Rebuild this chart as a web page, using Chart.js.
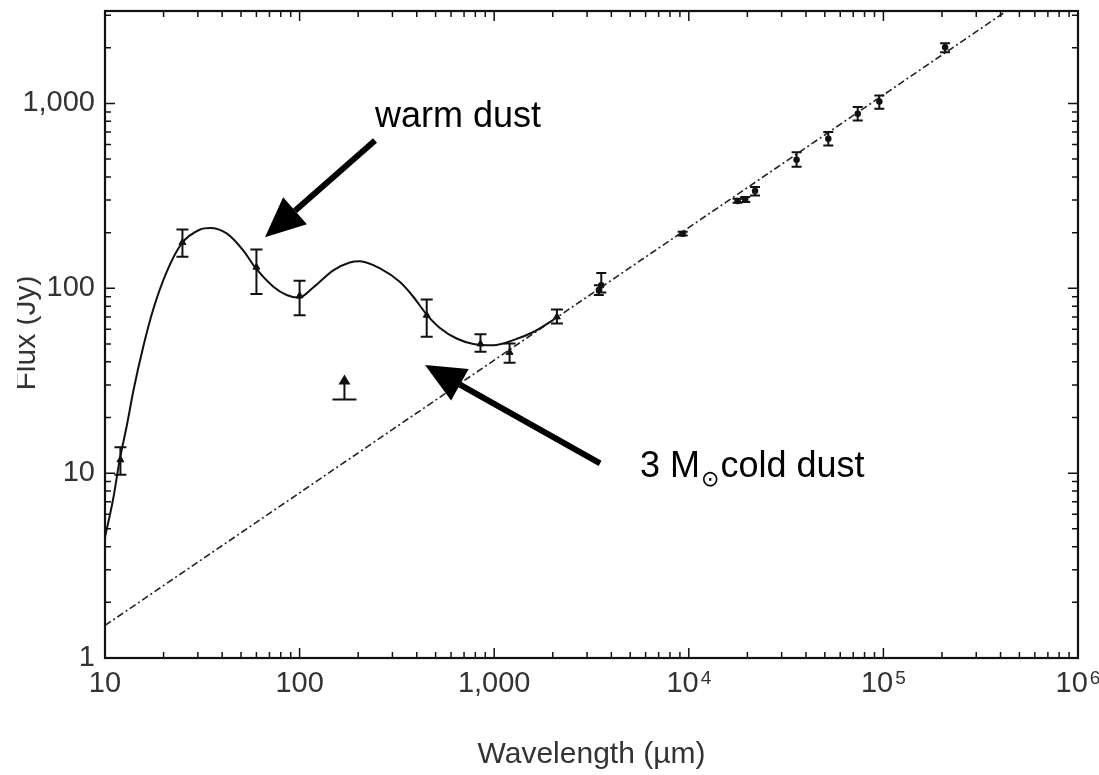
<!DOCTYPE html>
<html>
<head>
<meta charset="utf-8">
<script src="https://cdn.jsdelivr.net/npm/chart.js@4.4.0/dist/chart.umd.min.js"></script>
<style>
  body { margin: 0; background: #fff; }
  canvas { display: block; }
</style>
</head>
<body>
<canvas id="sedChart" width="1099" height="775"></canvas>
<script>
// two-component dust model (wavelength in um, flux in Jy)
var modelWave = [10, 11, 11.9, 13, 14, 15.7, 17.7, 20.7, 24.8, 30.8, 34.7, 42.2, 51.4, 59, 73.3, 85.8, 99.3, 117.5, 149, 181, 204, 259, 328, 384, 450, 526, 641, 781, 989, 1253, 1588, 2014];
var modelFlux = [4.5, 7.2, 11.8, 18.5, 28, 48, 77, 122, 175, 208, 212, 198, 160, 130, 102, 92, 89, 101, 125, 138, 140, 128, 108, 90, 72, 61, 53.5, 50, 49.2, 52.4, 58, 67.5];

// synchrotron power law
var synchWave = [10, 1e6];
var synchFlux = [1.5, 5800];

// infrared / submm photometry
var irWave = [12, 25, 60, 100, 450, 850, 1200, 2100];
var irFlux = [11.8, 177, 130, 91, 71.5, 50, 45, 70];
var irLow  = [9.8, 148, 93, 71.5, 54.6, 45.3, 39.5, 64.4];
var irHigh = [13.8, 208, 162, 110, 87, 56.4, 50.2, 76.7];

// radio photometry
var radioWave = [3450, 3550, 9300, 17800, 19500, 21900, 35800, 52100, 73800, 95300, 207500];
var radioFlux = [98, 104, 197, 297, 302, 336, 496, 644, 880, 1025, 2016];
var radioLow  = [92, 95, 193, 290, 293, 318, 455, 593, 809, 936, 1893];
var radioHigh = [104, 121, 202, 305, 312, 353, 545, 700, 955, 1105, 2118];

// lower limit
var limitWave = [170];
var limitFlux = [25];

// x labels: base text plus optional exponent
var xTicks = [10, 100, 1000, 1e4, 1e5, 1e6];
var xTickBase = ['10', '100', '1,000', '10', '10', '10'];
var xTickExp = ['', '', '', '4', '5', '6'];
var yTicks = [1, 10, 100, 1000];
var yTickLabels = ['1', '10', '100', '1,000'];

// labelled arrows, placed in data coordinates
var notes = [
  { text: 'warm dust', x: 244, y: 741, tail: [244, 631], tip: [66.4, 189] },
  { text: '3 M', sub: '⊙', rest: 'cold dust', x: 5610, y: 9.55, tail: [3500, 11.3], tip: [441, 38.4] }
];

var FONT = '"Liberation Sans", Arial, Helvetica, sans-serif';

function pts(xs, ys) {
  return xs.map(function(x, i) { return { x: x, y: ys[i] }; });
}

// frame on all four sides with inward major/minor ticks
var frameTicks = {
  id: 'frameTicks',
  afterDatasetsDraw: function(chart) {
    var ctx = chart.ctx, a = chart.chartArea, xs = chart.scales.x, ys = chart.scales.y;
    ctx.save();
    ctx.strokeStyle = '#111';
    ctx.lineWidth = 1.5;
    ctx.beginPath();
    var d, m, v, p, len;
    for (d = 1; d <= 6; d++) {
      for (m = 1; m <= 9; m++) {
        v = m * Math.pow(10, d);
        if (v > xs.max) break;
        p = xs.getPixelForValue(v);
        len = m === 1 ? 10 : 6;
        ctx.moveTo(p, a.bottom); ctx.lineTo(p, a.bottom - len);
        ctx.moveTo(p, a.top); ctx.lineTo(p, a.top + len);
      }
    }
    for (d = 0; d <= 4; d++) {
      for (m = 1; m <= 9; m++) {
        v = m * Math.pow(10, d);
        if (v > ys.max) break;
        p = ys.getPixelForValue(v);
        len = m === 1 ? 10 : 6;
        ctx.moveTo(a.left, p); ctx.lineTo(a.left + len, p);
        ctx.moveTo(a.right, p); ctx.lineTo(a.right - len, p);
      }
    }
    ctx.stroke();
    ctx.lineWidth = 2.2;
    ctx.strokeRect(a.left, a.top, a.right - a.left, a.bottom - a.top);
    ctx.restore();
  }
};

// x tick labels with raised exponents
var xLabels = {
  id: 'xLabels',
  afterDraw: function(chart) {
    var ctx = chart.ctx, a = chart.chartArea, xs = chart.scales.x;
    var baseFont = '29px ' + FONT, expFont = '19px ' + FONT;
    var y = a.bottom + 34;
    ctx.save();
    ctx.fillStyle = '#333';
    ctx.textAlign = 'left';
    ctx.textBaseline = 'alphabetic';
    xTicks.forEach(function(v, i) {
      ctx.font = baseFont;
      var wb = ctx.measureText(xTickBase[i]).width;
      ctx.font = expFont;
      var we = xTickExp[i] ? ctx.measureText(xTickExp[i]).width + 2 : 0;
      var x0 = xs.getPixelForValue(v) - (wb + we) / 2;
      ctx.font = baseFont;
      ctx.fillText(xTickBase[i], x0, y);
      if (xTickExp[i]) {
        ctx.font = expFont;
        ctx.fillText(xTickExp[i], x0 + wb + 2, y - 8);
      }
    });
    ctx.restore();
  }
};

// vertical error bars and the lower-limit arrow
var errorBars = {
  id: 'errorBars',
  afterDatasetsDraw: function(chart) {
    var ctx = chart.ctx, xs = chart.scales.x, ys = chart.scales.y;
    function bars(wave, low, high, cap) {
      wave.forEach(function(w, i) {
        var px = xs.getPixelForValue(w);
        var top = ys.getPixelForValue(high[i]), bot = ys.getPixelForValue(low[i]);
        ctx.moveTo(px, top); ctx.lineTo(px, bot);
        ctx.moveTo(px - cap, top); ctx.lineTo(px + cap, top);
        ctx.moveTo(px - cap, bot); ctx.lineTo(px + cap, bot);
      });
    }
    ctx.save();
    ctx.strokeStyle = '#111';
    ctx.lineWidth = 2;
    ctx.beginPath();
    bars(irWave, irLow, irHigh, 6);
    bars(radioWave, radioLow, radioHigh, 5);
    ctx.stroke();

    limitWave.forEach(function(w, i) {
      var px = xs.getPixelForValue(w), py = ys.getPixelForValue(limitFlux[i]);
      ctx.beginPath();
      ctx.moveTo(px - 12, py); ctx.lineTo(px + 12, py);
      ctx.moveTo(px, py); ctx.lineTo(px, py - 18);
      ctx.stroke();
      ctx.beginPath();
      ctx.moveTo(px, py - 25);
      ctx.lineTo(px - 6, py - 15);
      ctx.lineTo(px + 6, py - 15);
      ctx.closePath();
      ctx.fillStyle = '#111';
      ctx.fill();
    });
    ctx.restore();
  }
};

function drawArrow(ctx, x0, y0, x1, y1) {
  var ang = Math.atan2(y1 - y0, x1 - x0);
  var headLen = 40, headHalf = 18;
  var bx = x1 - headLen * Math.cos(ang), by = y1 - headLen * Math.sin(ang);
  ctx.beginPath();
  ctx.moveTo(x0, y0);
  ctx.lineTo(bx, by);
  ctx.lineWidth = 6;
  ctx.stroke();
  ctx.beginPath();
  ctx.moveTo(x1, y1);
  ctx.lineTo(bx + headHalf * Math.sin(ang), by - headHalf * Math.cos(ang));
  ctx.lineTo(bx - headHalf * Math.sin(ang), by + headHalf * Math.cos(ang));
  ctx.closePath();
  ctx.fill();
}

var notesPlugin = {
  id: 'notes',
  afterDraw: function(chart) {
    var ctx = chart.ctx, xs = chart.scales.x, ys = chart.scales.y;
    ctx.save();
    ctx.fillStyle = '#000';
    ctx.strokeStyle = '#000';
    notes.forEach(function(n) {
      drawArrow(ctx, xs.getPixelForValue(n.tail[0]), ys.getPixelForValue(n.tail[1]),
                xs.getPixelForValue(n.tip[0]), ys.getPixelForValue(n.tip[1]));
      var tx = xs.getPixelForValue(n.x), ty = ys.getPixelForValue(n.y);
      ctx.font = '36px ' + FONT;
      ctx.textAlign = 'left';
      ctx.textBaseline = 'alphabetic';
      ctx.fillText(n.text, tx, ty);
      if (n.sub) {
        tx += ctx.measureText(n.text).width + 1;
        ctx.font = '22px "DejaVu Sans", ' + FONT;
        ctx.fillText(n.sub, tx, ty + 9);
        tx += ctx.measureText(n.sub).width + 1;
        ctx.font = '36px ' + FONT;
        ctx.fillText(n.rest, tx, ty);
      }
    });
    ctx.restore();
  }
};

// axis titles; the y title runs off the left edge
var axisTitles = {
  id: 'axisTitles',
  afterDraw: function(chart) {
    var ctx = chart.ctx, a = chart.chartArea;
    ctx.save();
    ctx.fillStyle = '#333';
    ctx.font = '30px ' + FONT;
    ctx.textAlign = 'center';
    ctx.textBaseline = 'alphabetic';
    ctx.fillText('Wavelength (µm)', (a.left + a.right) / 2, 763);
    ctx.beginPath();
    ctx.rect(17, 0, 200, chart.height);
    ctx.clip();
    ctx.translate(35, 333);
    ctx.rotate(-Math.PI / 2);
    ctx.fillText('Flux (Jy)', 0, 0);
    ctx.restore();
  }
};

var ctx = document.getElementById('sedChart').getContext('2d');
var sedChart = new Chart(ctx, {
  type: 'line',
  data: {
    datasets: [
      { data: pts(modelWave, modelFlux), borderColor: '#111', borderWidth: 2, pointRadius: 0,
        cubicInterpolationMode: 'monotone', fill: false },
      { data: pts(synchWave, synchFlux), borderColor: '#222', borderWidth: 1.6,
        borderDash: [7, 3, 2, 3], pointRadius: 0, fill: false },
      { data: pts(irWave, irFlux), showLine: false, pointStyle: 'triangle', pointRadius: 4,
        backgroundColor: '#111', borderColor: '#111', borderWidth: 1 },
      { data: pts(radioWave, radioFlux), showLine: false, pointStyle: 'circle', pointRadius: 2.5,
        backgroundColor: '#111', borderColor: '#111', borderWidth: 1.5 }
    ]
  },
  options: {
    responsive: false,
    animation: false,
    layout: { padding: { top: 11, right: 21, left: 0, bottom: 0 } },
    plugins: { legend: { display: false }, tooltip: { enabled: false } },
    scales: {
      x: {
        type: 'logarithmic', min: 10, max: 1e6,
        grid: { display: false, drawTicks: false },
        border: { display: false },
        afterBuildTicks: function(s) { s.ticks = xTicks.map(function(v) { return { value: v }; }); },
        afterFit: function(s) { s.height = 117; s.paddingLeft = 0; s.paddingRight = 0; },
        ticks: { display: false }
      },
      y: {
        type: 'logarithmic', min: 1, max: 3162,
        grid: { display: false, drawTicks: false },
        border: { display: false },
        afterBuildTicks: function(s) { s.ticks = yTicks.map(function(v) { return { value: v }; }); },
        afterFit: function(s) { s.width = 105; s.paddingTop = 0; s.paddingBottom = 0; },
        ticks: {
          font: { family: FONT, size: 29 }, color: '#333', padding: 10,
          autoSkip: false,
          callback: function(v) { var i = yTicks.indexOf(v); return i < 0 ? '' : yTickLabels[i]; }
        }
      }
    }
  },
  plugins: [frameTicks, errorBars, xLabels, notesPlugin, axisTitles]
});
</script>
</body>
</html>
